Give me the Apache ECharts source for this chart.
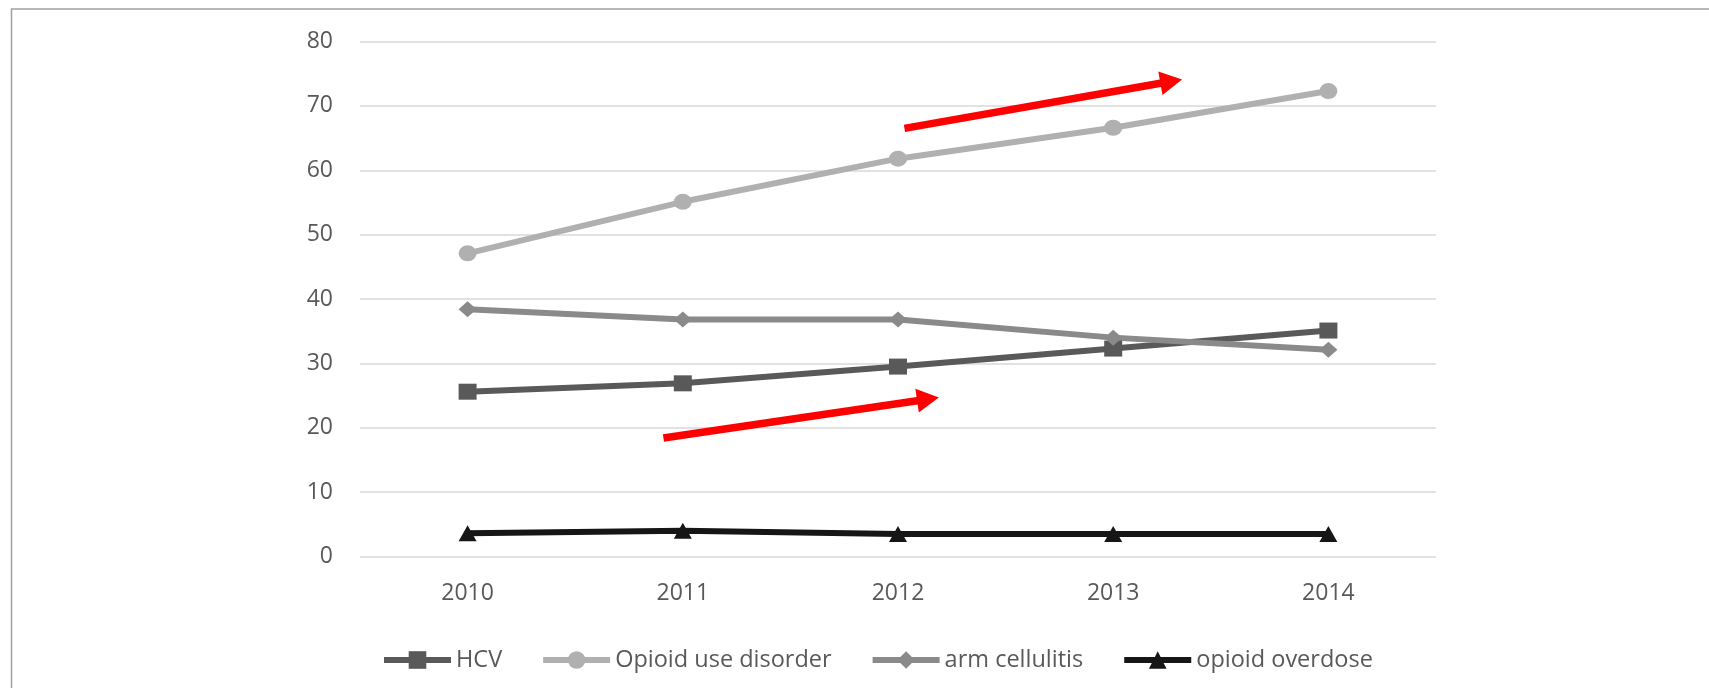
<!DOCTYPE html>
<html>
<head>
<meta charset="utf-8">
<script src="https://cdn.jsdelivr.net/npm/echarts@6/dist/echarts.min.js"></script>
<style>
  html, body { margin: 0; padding: 0; background: #fff; }
  #chart { width: 1709px; height: 688px; }
</style>
</head>
<body>
<div id="chart"></div>
<script>
// chart data
const years = ['2010', '2011', '2012', '2013', '2014']
const hcv = [25.6, 26.9, 29.5, 32.3, 35.1]
const opioidUseDisorder = [47.1, 55.1, 61.8, 66.6, 72.3]
const armCellulitis = [38.4, 36.8, 36.8, 34.0, 32.1]
const opioidOverdose = [3.6, 4.0, 3.5, 3.5, 3.5]

// red arrows, in axis units [category index, value]
const arrowTails = [[2.03, 66.5], [0.91, 18.4]]
const arrowTips = [[3.32, 74.1], [2.19, 24.7]]

const textColor = '#595959'
const font = '"Open Sans", "DejaVu Sans", sans-serif'

const chart = echarts.init(document.getElementById('chart'))

function lineSeries(name, data, color, symbol) {
  return {
    name: name,
    type: 'line',
    data: data,
    symbol: symbol,
    symbolSize: [18, 16],
    showAllSymbol: true,
    lineStyle: { width: 6, color: color },
    itemStyle: { color: color },
    emphasis: { disabled: true }
  }
}

const option = {
  animation: false,
  textStyle: { fontFamily: font },
  grid: { left: 360, right: 273, top: 41.5, bottom: 131.5 },
  legend: {
    left: 376,
    top: 643,
    itemWidth: 67,
    itemHeight: 22,
    itemGap: 38,
    lineStyle: { width: 6 },
    textStyle: { fontSize: 23.5, color: textColor, fontFamily: font },
    data: ['HCV', 'Opioid use disorder', 'arm cellulitis', 'opioid overdose']
  },
  xAxis: {
    type: 'category',
    data: years,
    boundaryGap: true,
    axisLine: { show: false },
    axisTick: { show: false },
    axisLabel: { fontSize: 23, color: textColor, margin: 25 }
  },
  yAxis: {
    type: 'value',
    min: 0,
    max: 80,
    interval: 10,
    axisLine: { show: false },
    axisTick: { show: false },
    axisLabel: { fontSize: 23, color: textColor, margin: 27 },
    splitLine: { lineStyle: { color: '#d9d9d9', width: 1.5 } }
  },
  series: [
    lineSeries('HCV', hcv, '#595959', 'rect'),
    lineSeries('Opioid use disorder', opioidUseDisorder, '#b0b0b0', 'circle'),
    lineSeries('arm cellulitis', armCellulitis, '#8a8a8a', 'diamond'),
    lineSeries('opioid overdose', opioidOverdose, '#161616', 'triangle')
  ]
}

chart.setOption(option)

// category axis rounds fractional indices, so interpolate between two categories
function toPixel(p) {
  const i = Math.floor(p[0])
  const f = p[0] - i
  const p0 = chart.convertToPixel({ gridIndex: 0 }, [i, p[1]])
  const p1 = chart.convertToPixel({ gridIndex: 0 }, [i + 1, p[1]])
  return [p0[0] + (p1[0] - p0[0]) * f, p0[1]]
}

// arrow polygon from tail to tip
function arrowPoints(a, b, shaft, headLen, headWidth) {
  const dx = b[0] - a[0]
  const dy = b[1] - a[1]
  const len = Math.sqrt(dx * dx + dy * dy)
  const ux = dx / len, uy = dy / len
  const nx = -uy, ny = ux
  const bx = b[0] - ux * headLen, by = b[1] - uy * headLen
  const s = shaft / 2, h = headWidth / 2
  return [
    [a[0] + nx * s, a[1] + ny * s],
    [bx + nx * s, by + ny * s],
    [bx + nx * h, by + ny * h],
    b,
    [bx - nx * h, by - ny * h],
    [bx - nx * s, by - ny * s],
    [a[0] - nx * s, a[1] - ny * s]
  ]
}

const graphics = [
  {
    type: 'rect',
    shape: { x: 11.5, y: 9, width: 1720, height: 700 },
    style: { fill: 'none', stroke: '#a0a0a0', lineWidth: 1.5 },
    silent: true
  }
]
arrowTails.forEach((tail, i) => {
  const a = toPixel(tail)
  const b = toPixel(arrowTips[i])
  graphics.push({
    type: 'polygon',
    shape: { points: arrowPoints(a, b, 7.5, 22, 24) },
    style: { fill: '#ff0000' },
    z: 100,
    silent: true
  })
})
chart.setOption({ graphic: graphics })
</script>
</body>
</html>
